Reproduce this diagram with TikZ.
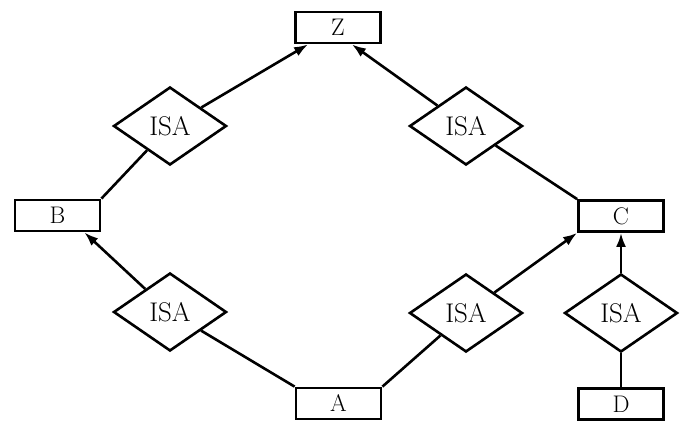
\documentclass[tikz,border=0pt]{standalone}
\usetikzlibrary{shapes.geometric,arrows.meta}
\begin{document}
\begin{tikzpicture}[x=1pt,y=-1pt,
  ent/.style={draw,line width=2.8pt,rectangle,minimum width=85pt,minimum height=31pt,inner sep=0pt,font=\fontsize{24}{26}\selectfont},
  isa/.style={draw,line width=2.6pt,diamond,minimum width=113pt,minimum height=78pt,inner sep=0pt,font=\fontsize{27}{29}\selectfont},
  link/.style={line width=2.6pt},
  arr/.style={line width=2.6pt,-{Latex[length=14pt,width=10pt]}}]
\useasboundingbox (0,0) rectangle (685,424);
% entity boxes
\node[ent] (Z) at (338,27.5) {Z};
\node[ent] (B) at (57.5,215.5) {B};
\node[ent] (C) at (621,216) {C};
\node[ent] (A) at (338.5,403.5) {A};
\node[ent] (D) at (621,404) {D};
% ISA diamonds
\node[isa] (i1) at (170,126) {ISA};
\node[isa] (i2) at (466,126) {ISA};
\node[isa] (i3) at (170,312) {ISA};
\node[isa] (i4) at (466,313) {ISA};
\node[isa] (i5) at (621,313) {ISA};
% arrow targets
\coordinate (zl) at ([xshift=14pt]Z.south west);
\coordinate (zr) at ([xshift=-30pt]Z.south east);
\coordinate (bb) at ([xshift=-17pt]B.south east);
% connectors
\draw[link] (i1) -- (B.north east);
\draw[arr] (i1) -- (zl);
\draw[arr] (i2) -- (zr);
\draw[link] (i2) -- (C.north west);
\draw[arr] (i3) -- (bb);
\draw[link] (i3) -- (A.north west);
\draw[link] (i4) -- (A.north east);
\draw[arr] (i4) -- (C.south west);
\draw[arr] (i5) -- (C.south);
\draw[link] (i5) -- (D.north);
\end{tikzpicture}
\end{document}
